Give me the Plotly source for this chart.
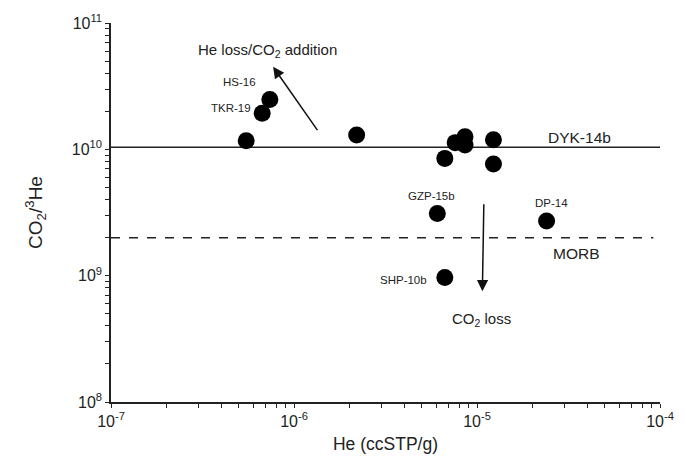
import numpy as np
import plotly.graph_objects as go

# data: He (ccSTP/g) vs CO2/3He
he = [5.48e-7, 6.7e-7, 7.38e-7, 2.2e-6, 6.67e-6, 7.6e-6, 8.6e-6, 8.6e-6,
      1.23e-5, 1.23e-5, 6.07e-6, 2.4e-5, 6.67e-6]
co2_he = [1.17e10, 1.93e10, 2.48e10, 1.30e10, 8.48e9, 1.13e10, 1.26e10, 1.08e10,
          1.19e10, 7.67e9, 3.11e9, 2.71e9, 9.66e8]

dyk_level = 1.04e10
morb_level = 2.0e9
x_range = [1e-7, 1e-4]
y_range = [1e8, 1e11]

x_decades = [-7, -6, -5, -4]
y_decades = [8, 9, 10, 11]

FONT = "Liberation Sans, Arial, sans-serif"

def log_ticks(decades):
    vals, texts = [], []
    for i, e in enumerate(decades):
        vals.append(10.0 ** e)
        texts.append("10<sup>%d</sup>" % e)
        if i < len(decades) - 1:
            for m in range(2, 10):
                vals.append(m * 10.0 ** e)
                texts.append("")
    return vals, texts

xv, xt = log_ticks(x_decades)
yv, yt = log_ticks(y_decades)

fig = go.Figure()

# reference lines
fig.add_trace(go.Scatter(x=x_range, y=[dyk_level, dyk_level], mode="lines",
                         line=dict(color="#222", width=1.5), hoverinfo="skip"))
fig.add_trace(go.Scatter(x=[x_range[0], 9.2e-5], y=[morb_level, morb_level], mode="lines",
                         line=dict(color="#222", width=1.5, dash="dash"), hoverinfo="skip"))

fig.add_trace(go.Scatter(x=he, y=co2_he, mode="markers",
                         marker=dict(size=17, color="black"), hoverinfo="skip"))

fig.update_xaxes(type="log", range=[np.log10(x_range[0]), np.log10(x_range[1])],
                 tickvals=xv, ticktext=xt,
                 ticks="outside", ticklen=4, tickwidth=1.2, tickcolor="#222",
                 showline=True, linecolor="#222", linewidth=1.5, showgrid=False,
                 zeroline=False, mirror=False,
                 tickfont=dict(size=16, family=FONT, color="#222"),
                 title=dict(text="He (ccSTP/g)", font=dict(size=17.5, family=FONT, color="#222"),
                            standoff=9))
fig.update_yaxes(type="log", range=[np.log10(y_range[0]), np.log10(y_range[1])],
                 tickvals=yv, ticktext=yt,
                 ticks="outside", ticklen=4, tickwidth=1.2, tickcolor="#222",
                 showline=True, linecolor="#222", linewidth=1.5, showgrid=False,
                 zeroline=False,
                 tickfont=dict(size=16, family=FONT, color="#222"),
                 title=dict(text="CO<sub>2</sub>/<sup>3</sup>He",
                            font=dict(size=19, family=FONT, color="#222"), standoff=24))

# arrows
fig.add_annotation(x=np.log10(7.69e-7), y=np.log10(4.5e10), ax=np.log10(1.36e-6), ay=np.log10(1.38e10),
                   xref="x", yref="y", axref="x", ayref="y", showarrow=True, text="",
                   arrowhead=2, arrowsize=1.5, arrowwidth=1.5, arrowcolor="#111")
fig.add_annotation(x=np.log10(1.07e-5), y=np.log10(7.53e8), ax=np.log10(1.09e-5), ay=np.log10(3.78e9),
                   xref="x", yref="y", axref="x", ayref="y", showarrow=True, text="",
                   arrowhead=2, arrowsize=1.5, arrowwidth=1.5, arrowcolor="#111")

labels = [
    ("He loss/CO<sub>2</sub> addition", -6.147, 10.785, 15),
    ("HS-16", -6.299, 10.531, 11.5),
    ("TKR-19", -6.342, 10.331, 11.5),
    ("DYK-14b", -4.440, 10.092, 15.5),
    ("GZP-15b", -5.25, 9.631, 11.5),
    ("DP-14", -4.592, 9.577, 11.5),
    ("MORB", -4.457, 9.177, 15.5),
    ("SHP-10b", -5.402, 8.962, 11.5),
    ("CO<sub>2</sub> loss", -4.973, 8.654, 15),
]
for t, x, y, s in labels:
    fig.add_annotation(x=x, y=y, xref="x", yref="y", text=t, showarrow=False,
                       font=dict(size=s, family=FONT, color="#222"))

fig.update_layout(width=686, height=463, plot_bgcolor="white", paper_bgcolor="white",
                  showlegend=False, margin=dict(l=111, r=23, t=15, b=59))

fig.write_html("out.html")
